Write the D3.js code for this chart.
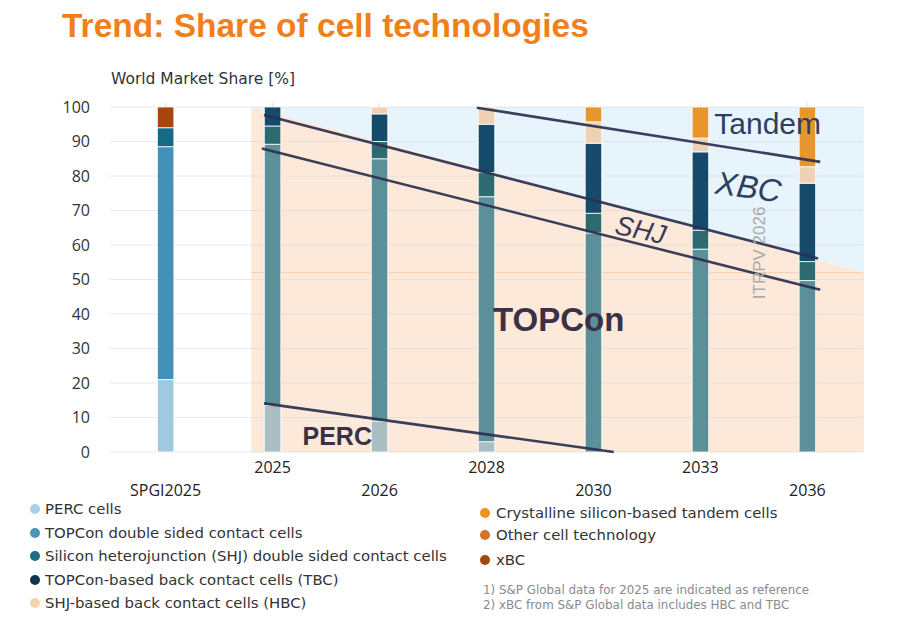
<!DOCTYPE html>
<html><head><meta charset="utf-8">
<script src="https://cdn.jsdelivr.net/npm/d3@7"></script>
<style>
html,body{margin:0;padding:0;background:#fff;}
svg{display:block;}
</style></head>
<body>
<script>
// ---- data ----
const categories = ["SPGI2025","2025","2026","2028","2030","2033","2036"];
const perc   = [21, 13.5, 9, 3, 0, 0, 0];
const topcon = [67.5, 75.7, 76, 71, 63.5, 58.8, 49.7];
const shj    = [5.5, 5.3, 5, 7, 5.7, 5.5, 5.5];
const tbc    = [0, 5.5, 8, 14, 20.3, 22.7, 22.7];
const hbc    = [0, 0, 2, 5, 6.2, 4, 4.8];
const tandem = [0, 0, 0, 0, 4.3, 9, 17.3];
const other  = [0, 0, 0, 0, 0, 0, 0];
const xbc    = [6, 0, 0, 0, 0, 0, 0];
const yTicks = [0,10,20,30,40,50,60,70,80,90,100];
const seriesKeys = ["perc","topcon","shj","tbc","hbc","tandem","other","xbc"];
const legendLeft = ["PERC cells","TOPCon double sided contact cells","Silicon heterojunction (SHJ) double sided contact cells","TOPCon-based back contact cells (TBC)","SHJ-based back contact cells (HBC)"];
const legendRight = ["Crystalline silicon-based tandem cells","Other cell technology","xBC"];
const footnotes = ["1) S&P Global data for 2025 are indicated as reference","2) xBC from S&P Global data includes HBC and TBC"];
// trend lines: [slot, value] pairs
const trendTandem = [[2.91, 99.8],[6.12, 84.1]];
const trendXBC    = [[0.92, 97.7],[6.10, 56.1]];
const trendSHJ    = [[0.90, 88.0],[6.12, 47.0]];
const trendPERC   = [[0.92, 14.1],[4.19, 0]];
const peachRegion = [[0.80,0],[0.80,100],[6.53,52],[6.53,0]];
const blueRegion  = [[0.80,100],[6.53,100],[6.53,52]];

// ---- colours ----
const colSPGI = {perc:"#a0c8e0", topcon:"#4391b6", shj:"#156b87", tbc:"#0f3a57", hbc:"#f5d2b0", tandem:"#e8962c", other:"#cf7428", xbc:"#ab4510"};
const colITRPV = {perc:"#a9bfc3", topcon:"#5b8f99", shj:"#2e6b70", tbc:"#164a6a", hbc:"#efd1b3", tandem:"#e6962c", other:"#cf7428", xbc:"#ab4510"};
const legColL = ["#a8cfe6","#4b95b8","#1d6c87","#0f3550","#fad2ae"];
const legColR = ["#f0921a","#d0742a","#a5480f"];

const W = 911, H = 631;
const svg = d3.select("body").append("svg").attr("width", W).attr("height", H);

const plotL = 110, plotR = 863, plotT = 107, plotB = 452;
const x = d3.scalePoint().domain(categories).range([plotL, plotR]).padding(0.52);
const xs = d3.scaleLinear().domain([0, 6]).range([x(categories[0]), x(categories[6])]);
const y = d3.scaleLinear().domain([0, 100]).range([plotB, plotT]);
const barW = 16.5;
const uiFont = "DejaVu Sans, Verdana, sans-serif";

// title
svg.append("text").attr("x", 62).attr("y", 37)
  .attr("font-family", "Liberation Sans, Arial, sans-serif").attr("font-weight", "bold")
  .attr("font-size", 33.5).attr("fill", "#f07f1c")
  .text("Trend: Share of cell technologies");

// y title
svg.append("text").attr("x", 111).attr("y", 84)
  .attr("font-family", uiFont).attr("font-size", 15.5).attr("fill", "#333")
  .text("World Market Share [%]");

// background regions
const line = d3.line().x(d => xs(d[0])).y(d => y(d[1]));
svg.append("path").attr("d", line(peachRegion) + "Z").attr("fill", "#fde9da");
svg.append("path").attr("d", line(blueRegion) + "Z").attr("fill", "#e7f4fb");

// gridlines
svg.append("g").selectAll("line").data(yTicks).join("line")
  .attr("x1", plotL).attr("x2", plotR)
  .attr("y1", d => y(d)).attr("y2", d => y(d))
  .attr("stroke", "#d8d8d8").attr("stroke-opacity", 0.6).attr("stroke-width", 1);
// orange line at 52 in peach area
svg.append("line").attr("x1", xs(0.80)).attr("x2", plotR).attr("y1", y(52)).attr("y2", y(52))
  .attr("stroke", "#f7cfb0").attr("stroke-width", 1);

// y tick labels
svg.append("g").selectAll("text").data(yTicks).join("text")
  .attr("x", 90).attr("y", d => y(d)).attr("dy", "0.35em").attr("text-anchor", "end")
  .attr("font-family", "Open Sans, sans-serif").attr("font-size", 16).attr("fill", "#333")
  .text(d => d);

// x tick labels (staggered)
svg.append("g").selectAll("text").data(categories).join("text")
  .attr("x", d => x(d)).attr("y", (d, i) => (i % 2 === 1) ? 473 : 496).attr("text-anchor", "middle")
  .attr("font-family", "Open Sans, sans-serif").attr("font-size", 16).attr("fill", "#222")
  .text(d => d);
// small tick marks at top
svg.append("g").selectAll("line").data(categories).join("line")
  .attr("x1", d => x(d)).attr("x2", d => x(d)).attr("y1", plotT - 4).attr("y2", plotT)
  .attr("stroke", "#ddd");

// stacked bars
const rows = categories.map((c, i) => ({cat: c, perc: perc[i], topcon: topcon[i], shj: shj[i], tbc: tbc[i], hbc: hbc[i], tandem: tandem[i], other: other[i], xbc: xbc[i]}));
const stack = d3.stack().keys(seriesKeys)(rows);
const gBars = svg.append("g");
stack.forEach(s => {
  gBars.selectAll(null).data(s.filter(d => d[1] - d[0] > 0)).join("rect")
    .attr("x", d => x(d.data.cat) - barW / 2).attr("width", barW)
    .attr("y", d => y(d[1])).attr("height", d => y(d[0]) - y(d[1]))
    .attr("fill", d => (d.data.cat === "SPGI2025" ? colSPGI : colITRPV)[s.key])
    .attr("stroke", "#ffffff").attr("stroke-opacity", 0.8).attr("stroke-width", 1);
});

// trend lines
[trendTandem, trendXBC, trendSHJ, trendPERC].forEach(t => {
  svg.append("path").attr("d", line(t)).attr("fill", "none")
    .attr("stroke", "#2a2f4e").attr("stroke-width", 2.6).attr("stroke-opacity", 0.92);
});

// annotations
const ann = svg.append("g").attr("font-family", "Liberation Sans, Arial, sans-serif");
ann.append("text").attr("x", xs(5.13)).attr("y", y(92.2)).attr("font-size", 30).attr("fill", "#2e3d63").text("Tandem");
ann.append("text").attr("transform", `translate(${xs(5.13)},${y(75)}) rotate(8)`).attr("font-size", 32)
  .attr("font-style", "italic").attr("fill", "#2e3d63").text("XBC");
ann.append("text").attr("transform", `translate(${xs(4.19)},${y(63.3)}) rotate(12)`).attr("font-size", 27)
  .attr("font-style", "italic").attr("fill", "#3a3a52").text("SHJ");
ann.append("text").attr("x", xs(3.06)).attr("y", y(35.1)).attr("font-size", 33).attr("font-weight", "bold")
  .attr("fill", "#3b3045").text("TOPCon");
ann.append("text").attr("x", xs(1.28)).attr("y", y(2.0)).attr("font-size", 25).attr("font-weight", "bold")
  .attr("fill", "#3b3045").text("PERC");
ann.append("text").attr("transform", `translate(${xs(5.6)},${y(44.3)}) rotate(-90)`).attr("font-size", 17)
  .attr("fill", "#aaaaaa").text("ITRPV 2026");

// legend
const leg = svg.append("g").attr("font-family", uiFont).attr("font-size", 14.9).attr("fill", "#333");
const legYL = [509, 533, 556, 580, 603];
legendLeft.forEach((t, i) => {
  leg.append("circle").attr("cx", 35).attr("cy", legYL[i]).attr("r", 5).attr("fill", legColL[i]);
  leg.append("text").attr("x", 45).attr("y", legYL[i]).attr("dy", "0.35em").text(t);
});
const legYR = [513, 535, 560];
legendRight.forEach((t, i) => {
  leg.append("circle").attr("cx", 485).attr("cy", legYR[i]).attr("r", 5).attr("fill", legColR[i]);
  leg.append("text").attr("x", 496).attr("y", legYR[i]).attr("dy", "0.35em").text(t);
});
const fn = svg.append("g").attr("font-family", uiFont).attr("font-size", 11.9).attr("fill", "#8a8a8a");
footnotes.forEach((t, i) => {
  fn.append("text").attr("x", 483).attr("y", 590 + i * 15).attr("dy", "0.35em").text(t);
});
</script>
</body></html>
